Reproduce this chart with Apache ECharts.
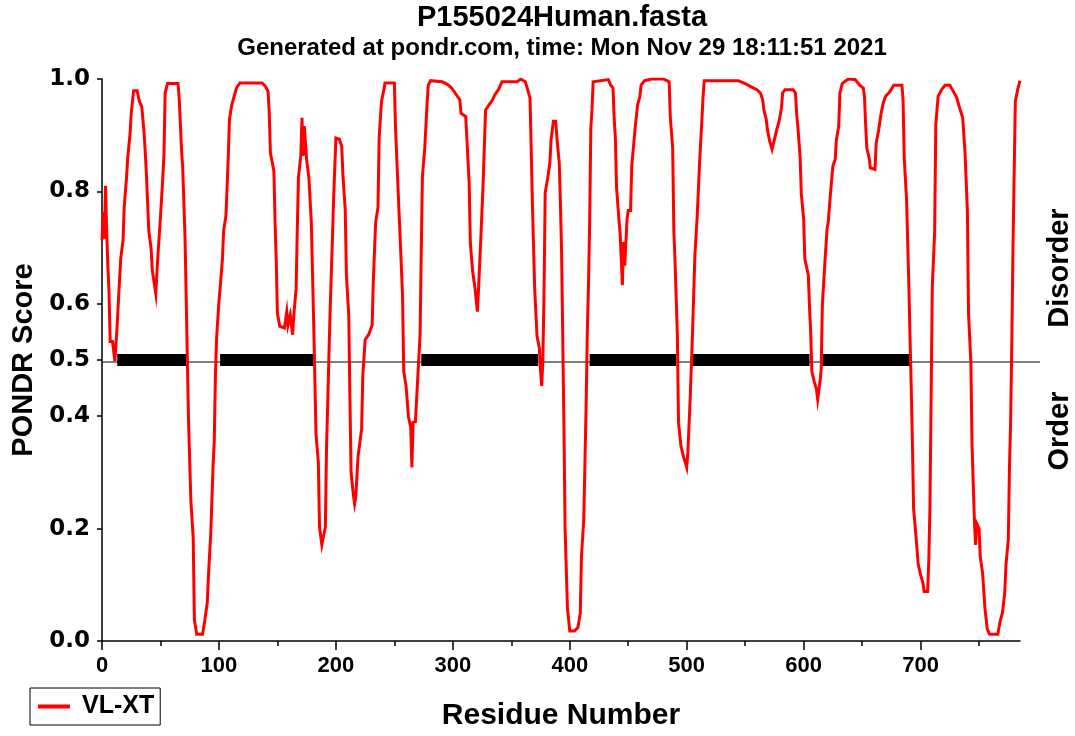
<!DOCTYPE html>
<html>
<head>
<meta charset="utf-8">
<script src="https://cdn.jsdelivr.net/npm/echarts@6/dist/echarts.min.js"></script>
<style>
html,body{margin:0;padding:0;background:#fff;}
#chart{width:1075px;height:736px;}
</style>
</head>
<body>
<div id="chart"></div>
<script>
// ---- data ----
const titleText = 'P155024Human.fasta';
const subtitleText = 'Generated at pondr.com, time: Mon Nov 29 18:11:51 2021';
const seriesName = 'VL-XT';
const sequenceLength = 785;
const residues = [0,1,2,3,4,5,6,7,9,11,13,14,16,18,19,21,22,24,25,27,30,32,34,36,37,38,40,42,43,46,47,48,50,52,53,54,56,65,66,68,69,71,72,74,76,78,79,81,86,88,90,91,93,95,96,97,98,100,101,103,104,106,108,109,111,113,115,118,137,140,142,143,144,147,148,149,150,152,156,158,159,161,163,164,166,167,168,170,171,172,173,175,177,179,181,182,183,185,186,188,191,192,193,194,195,197,198,200,203,205,206,208,209,211,212,213,215,216,217,219,220,222,223,225,228,231,232,234,236,237,239,241,242,250,251,252,254,255,257,258,260,262,264,265,266,268,270,272,273,274,276,278,279,281,291,295,299,303,306,307,311,312,314,315,317,319,321,322,324,326,327,328,331,334,336,339,342,355,358,362,364,366,367,368,370,372,374,375,376,377,378,379,381,383,384,386,388,389,391,392,393,394,395,396,398,400,404,407,409,410,412,414,415,416,417,418,419,420,421,433,435,437,438,439,440,442,443,445,446,447,449,450,452,453,455,456,458,460,461,464,470,480,485,486,488,489,490,492,493,495,497,500,501,503,505,507,509,511,513,514,515,544,550,555,560,563,565,566,568,569,571,573,575,577,579,581,582,584,591,593,594,595,597,598,600,601,604,605,606,607,609,611,612,614,615,616,618,620,621,623,625,627,628,630,631,633,638,644,648,651,652,653,654,656,657,661,662,664,666,668,670,674,677,684,685,686,688,690,691,692,693,694,696,698,700,702,703,706,707,708,709,710,712,713,715,718,721,725,728,731,733,736,738,740,741,743,744,746,747,748,750,751,753,755,757,759,766,768,770,772,773,775,776,777,778,779,780,781,783,785];
const scores = [0.713,0.763,0.716,0.81,0.73,0.668,0.621,0.533,0.533,0.498,0.562,0.604,0.68,0.713,0.772,0.825,0.86,0.903,0.939,0.979,0.979,0.96,0.951,0.904,0.869,0.83,0.73,0.698,0.66,0.618,0.657,0.692,0.754,0.825,0.866,0.975,0.992,0.992,0.966,0.875,0.842,0.719,0.61,0.392,0.25,0.183,0.038,0.012,0.012,0.038,0.068,0.115,0.191,0.312,0.356,0.474,0.539,0.604,0.627,0.68,0.73,0.757,0.863,0.928,0.954,0.969,0.984,0.993,0.993,0.986,0.978,0.942,0.869,0.836,0.745,0.677,0.583,0.56,0.557,0.586,0.562,0.58,0.545,0.58,0.627,0.733,0.825,0.863,0.931,0.863,0.916,0.857,0.822,0.745,0.568,0.468,0.368,0.318,0.203,0.171,0.203,0.345,0.421,0.504,0.583,0.713,0.783,0.895,0.893,0.88,0.83,0.767,0.651,0.58,0.433,0.30,0.259,0.244,0.256,0.33,0.345,0.377,0.471,0.536,0.545,0.562,0.639,0.745,0.772,0.895,0.96,0.981,0.993,0.993,0.913,0.863,0.763,0.716,0.615,0.48,0.454,0.40,0.38,0.309,0.389,0.39,0.468,0.545,0.692,0.827,0.877,0.957,0.989,0.997,0.995,0.991,0.984,0.972,0.963,0.939,0.933,0.895,0.813,0.707,0.657,0.627,0.586,0.627,0.719,0.819,0.883,0.945,0.954,0.963,0.972,0.981,0.995,0.995,1.0,0.995,0.981,0.966,0.877,0.783,0.627,0.542,0.521,0.48,0.454,0.50,0.624,0.798,0.822,0.851,0.892,0.925,0.925,0.895,0.851,0.78,0.692,0.539,0.386,0.20,0.059,0.018,0.018,0.024,0.05,0.15,0.218,0.421,0.55,0.633,0.742,0.913,0.945,0.995,0.997,0.999,0.989,0.984,0.928,0.895,0.807,0.751,0.727,0.633,0.71,0.668,0.751,0.766,0.766,0.845,0.892,0.915,0.954,0.969,0.989,0.997,1.0,1.0,0.995,0.931,0.877,0.73,0.677,0.545,0.389,0.348,0.33,0.309,0.336,0.433,0.551,0.686,0.757,0.851,0.928,0.969,0.997,0.997,0.992,0.986,0.981,0.975,0.963,0.945,0.928,0.91,0.889,0.875,0.892,0.91,0.925,0.948,0.975,0.981,0.981,0.975,0.939,0.916,0.86,0.795,0.751,0.68,0.651,0.595,0.55,0.48,0.462,0.448,0.43,0.462,0.483,0.598,0.668,0.733,0.745,0.798,0.845,0.857,0.892,0.916,0.975,0.992,1.0,0.999,0.989,0.984,0.969,0.919,0.877,0.86,0.842,0.839,0.886,0.907,0.936,0.957,0.969,0.978,0.989,0.989,0.963,0.86,0.786,0.63,0.536,0.45,0.353,0.236,0.188,0.136,0.118,0.103,0.088,0.088,0.141,0.239,0.433,0.63,0.727,0.919,0.969,0.981,0.989,0.989,0.978,0.966,0.951,0.931,0.869,0.766,0.583,0.495,0.348,0.215,0.171,0.209,0.20,0.15,0.121,0.059,0.021,0.012,0.012,0.035,0.05,0.088,0.136,0.18,0.309,0.392,0.53,0.70,0.83,0.96,0.981,0.997];
// disordered regions (start, end residue) drawn as thick bars on the threshold
const disorderStarts = [13,101,273,417,505,616];
const disorderEnds   = [73,181,373,491,605,691];
const threshold = 0.5;
const xTickValues = [0,100,200,300,400,500,600,700];
const xMinorTickValues = [50,150,250,350,450,550,650,750];
const yTickValues = [0,0.2,0.4,0.5,0.6,0.8,1.0];
const sideLabels = ['Disorder','Order'];

// ---- chart ----
const chart = echarts.init(document.getElementById('chart'), null, {renderer:'canvas'});
const F = 'Liberation Sans, Arial, Helvetica, sans-serif';

const lineData = residues.map((r,i)=>[r, scores[i]]);
const barSeries = disorderStarts.map((s,i)=>({
  type:'line', xAxisIndex:0, yAxisIndex:0,
  data:[[s,threshold],[disorderEnds[i],threshold]],
  showSymbol:false, symbol:'none', silent:true, z:2,
  lineStyle:{color:'#000', width:12, cap:'butt'}, animation:false
}));

const option = {
  animation:false,
  backgroundColor:'#fff',
  title:[
    {text:titleText, left:562, top:3, textAlign:'center', padding:0,
     textStyle:{fontFamily:F, fontWeight:'bold', fontSize:29, color:'#000'}},
    {text:subtitleText, left:562, top:36, textAlign:'center', padding:0,
     textStyle:{fontFamily:F, fontWeight:'bold', fontSize:24, color:'#000'}}
  ],
  legend:{
    data:[seriesName], left:30, top:688, orient:'horizontal',
    borderColor:'#000', borderWidth:1, borderRadius:0,
    padding:[6,6,6,8], itemWidth:32, itemHeight:4, icon:'rect',
    textStyle:{fontFamily:F, fontWeight:'bold', fontSize:25, color:'#000', padding:[0,0,0,7]}
  },
  grid:[
    {left:102, right:55, top:79, bottom:91, containLabel:false},
    {left:102, right:35, top:79, bottom:91, containLabel:false}
  ],
  xAxis:[
    {type:'value', gridIndex:0, min:0, max:sequenceLength, position:'bottom',
     name:'Residue Number', nameLocation:'middle', nameGap:60,
     nameTextStyle:{fontFamily:F, fontWeight:'bold', fontSize:30, color:'#000'},
     axisLine:{show:true, onZero:false, lineStyle:{color:'#000', width:1.5}},
     axisTick:{show:true, inside:false, length:9, customValues:xTickValues, lineStyle:{color:'#000', width:1.5}},
     axisLabel:{show:true, customValues:xTickValues, margin:14, fontFamily:F, fontWeight:'bold', fontSize:22, color:'#000'},
     splitLine:{show:false}},
    {type:'value', gridIndex:0, min:0, max:sequenceLength, position:'bottom',
     axisLine:{show:false},
     axisTick:{show:true, inside:false, length:5, customValues:xMinorTickValues, lineStyle:{color:'#000', width:1.5}},
     axisLabel:{show:false}, splitLine:{show:false}},
    {type:'value', gridIndex:1, min:0, max:1, show:false}
  ],
  yAxis:[
    {type:'value', gridIndex:0, min:0, max:1,
     name:'PONDR Score', nameLocation:'middle', nameGap:53, nameRotate:90,
     nameTextStyle:{fontFamily:F, fontWeight:'bold', fontSize:29, color:'#000'},
     axisLine:{show:true, lineStyle:{color:'#000', width:1.5}},
     axisTick:{show:true, inside:false, length:5, customValues:yTickValues, lineStyle:{color:'#000', width:1.5}},
     axisLabel:{show:true, customValues:yTickValues, margin:12, formatter:v=>v.toFixed(1),
       fontFamily:'DejaVu Sans', fontWeight:'bold', fontSize:23, color:'#000'},
     splitLine:{show:false}},
    {type:'value', gridIndex:1, min:0, max:1, show:false}
  ],
  graphic:[
    {type:'text', x:1060, y:268, rotation:Math.PI/2,
     style:{text:sideLabels[0], font:'bold 29px '+F, align:'center', verticalAlign:'middle', fill:'#000'}},
    {type:'text', x:1060, y:431, rotation:Math.PI/2,
     style:{text:sideLabels[1], font:'bold 29px '+F, align:'center', verticalAlign:'middle', fill:'#000'}}
  ],
  series:[
    {type:'line', xAxisIndex:2, yAxisIndex:1, data:[[0,threshold],[1,threshold]],
     showSymbol:false, symbol:'none', silent:true, z:1,
     lineStyle:{color:'#000', width:1}},
    ...barSeries,
    {name:seriesName, type:'line', xAxisIndex:0, yAxisIndex:0, data:lineData,
     showSymbol:false, symbol:'none', z:3, color:'#ff0000',
     lineStyle:{color:'#ff0000', width:3, join:'miter'}}
  ]
};
chart.setOption(option);
</script>
</body>
</html>
